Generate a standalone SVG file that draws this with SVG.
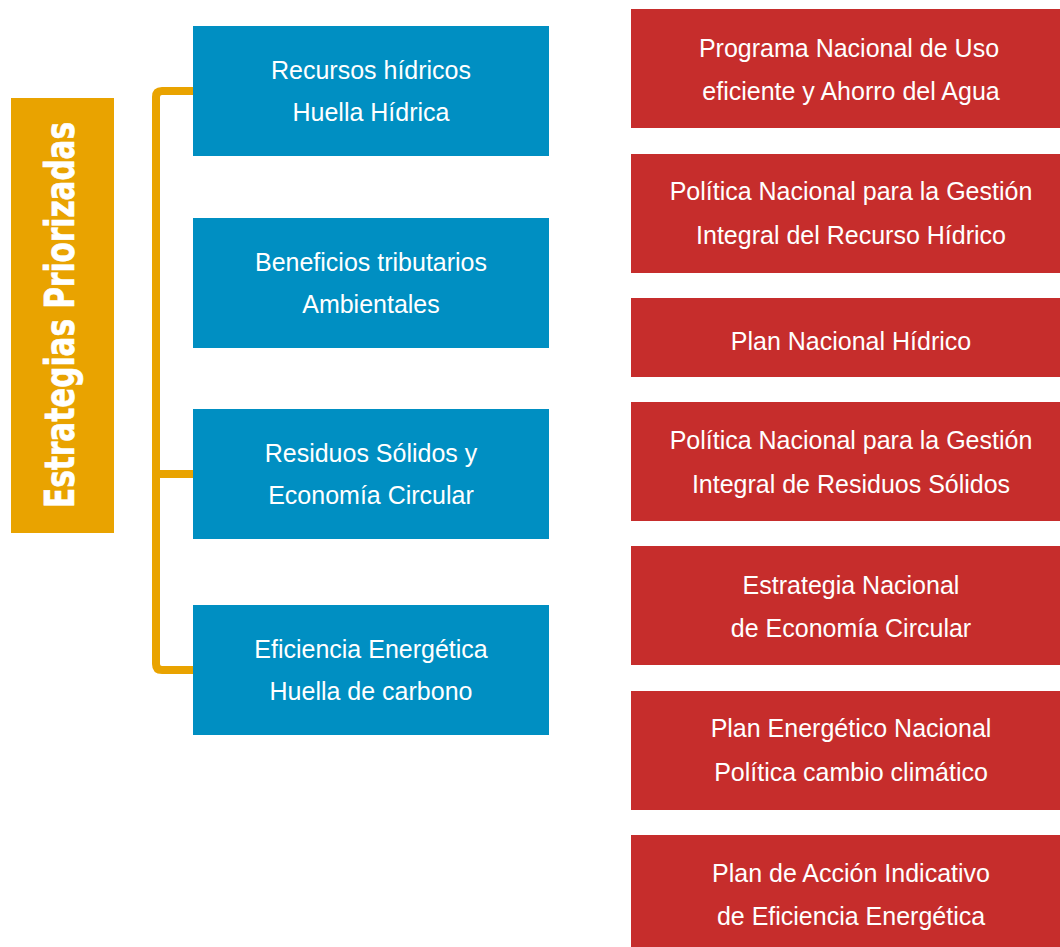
<svg xmlns="http://www.w3.org/2000/svg" width="1060" height="947" viewBox="0 0 1060 947">
<style>
.blue{fill:#008FC2}
.red{fill:#C62D2C}
.t{font-family:"Liberation Sans",Arial,sans-serif;font-size:25px;fill:#fff;text-anchor:middle}
.br{fill:none;stroke:#E9A300;stroke-width:8;stroke-linecap:round;stroke-linejoin:round}
</style>
<rect width="1060" height="947" fill="#fff"/>
<g id="title">
<rect x="11" y="98" width="103" height="435" fill="#E9A300"/>
<text transform="translate(74,315) rotate(-90)" text-anchor="middle" font-family="'DejaVu Sans Condensed','Liberation Sans Narrow','DejaVu Sans',sans-serif" font-stretch="condensed" font-weight="bold" font-size="40" fill="#fff" stroke="#fff" stroke-width="0.6" textLength="386" lengthAdjust="spacingAndGlyphs">Estrategias Priorizadas</text>
</g>
<g id="connectors">
<path class="br" d="M195,91 H162 Q156,91 156,97 V664 Q156,670 162,670 H195"/>
<path class="br" d="M156,474 H195"/>
</g>
<g id="b1"><rect class="blue" x="193" y="26" width="356" height="130"/><text class="t" x="371" y="79">Recursos hídricos</text><text class="t" x="371" y="121">Huella Hídrica</text></g>
<g id="b2"><rect class="blue" x="193" y="218" width="356" height="130"/><text class="t" x="371" y="271">Beneficios tributarios</text><text class="t" x="371" y="313">Ambientales</text></g>
<g id="b3"><rect class="blue" x="193" y="409" width="356" height="130"/><text class="t" x="371" y="462">Residuos Sólidos y</text><text class="t" x="371" y="504">Economía Circular</text></g>
<g id="b4"><rect class="blue" x="193" y="605" width="356" height="130"/><text class="t" x="371" y="658">Eficiencia Energética</text><text class="t" x="371" y="700">Huella de carbono</text></g>
<g id="r1"><rect class="red" x="631" y="9" width="429" height="119"/><text class="t" x="849" y="57">Programa Nacional de Uso</text><text class="t" x="851" y="100">eficiente y Ahorro del Agua</text></g>
<g id="r2"><rect class="red" x="631" y="154" width="429" height="119"/><text class="t" x="851" y="200">Política Nacional para la Gestión</text><text class="t" x="851" y="244">Integral del Recurso Hídrico</text></g>
<g id="r3"><rect class="red" x="631" y="298" width="429" height="79"/><text class="t" x="851" y="350">Plan Nacional Hídrico</text></g>
<g id="r4"><rect class="red" x="631" y="402" width="429" height="119"/><text class="t" x="851" y="449">Política Nacional para la Gestión</text><text class="t" x="851" y="493">Integral de Residuos Sólidos</text></g>
<g id="r5"><rect class="red" x="631" y="546" width="429" height="119"/><text class="t" x="851" y="594">Estrategia Nacional</text><text class="t" x="851" y="637">de Economía Circular</text></g>
<g id="r6"><rect class="red" x="631" y="691" width="429" height="119"/><text class="t" x="851" y="737">Plan Energético Nacional</text><text class="t" x="851" y="781">Política cambio climático</text></g>
<g id="r7"><rect class="red" x="631" y="835" width="429" height="112"/><text class="t" x="851" y="882">Plan de Acción Indicativo</text><text class="t" x="851" y="925">de Eficiencia Energética</text></g>
</svg>
